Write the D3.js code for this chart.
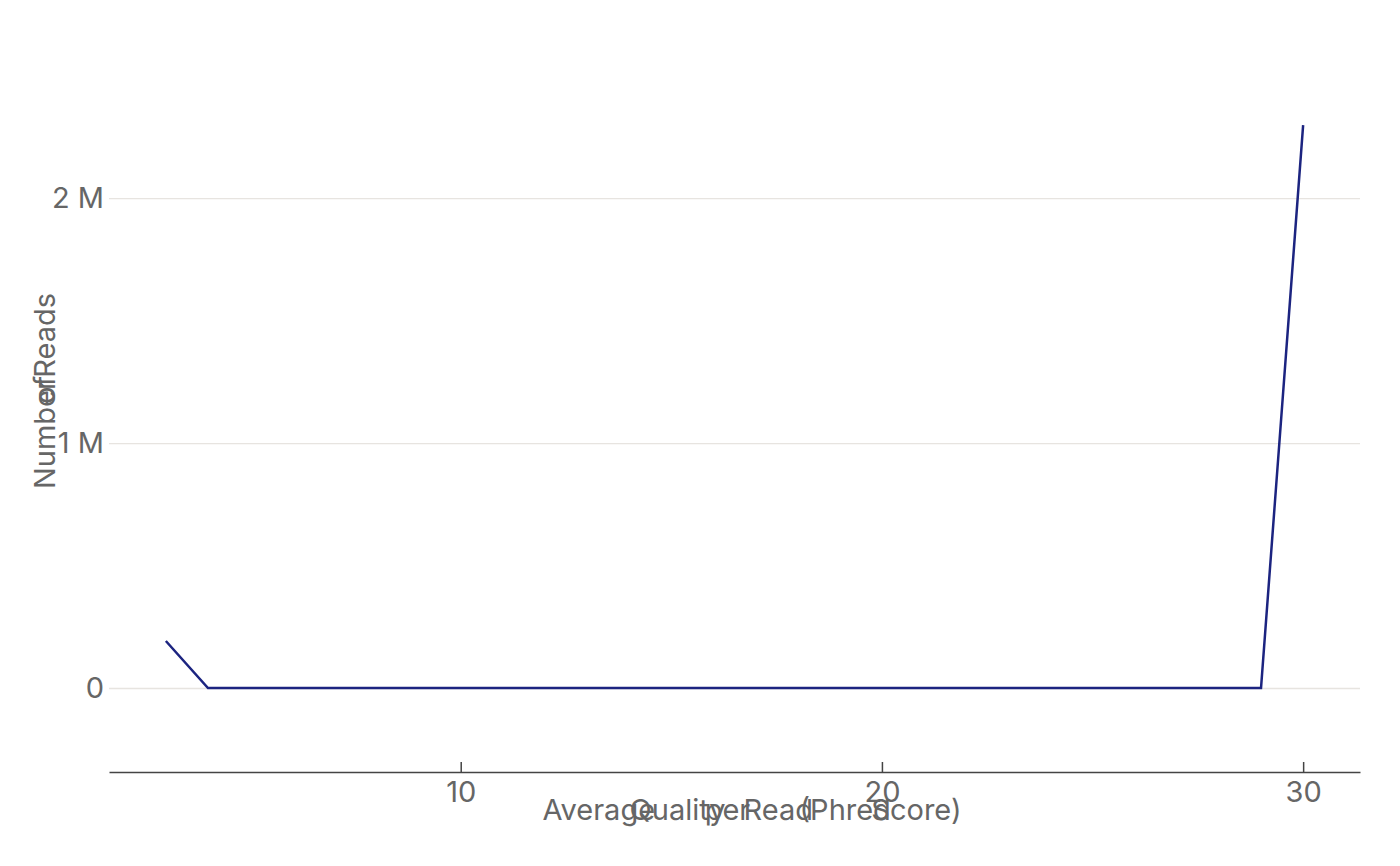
<!DOCTYPE html>
<html><head><meta charset="utf-8">
<script src="https://cdn.jsdelivr.net/npm/d3@7"></script>
<style>
html,body{margin:0;padding:0;background:#ffffff;}
svg text{font-family:Inter,"Noto Sans","DejaVu Sans",sans-serif;}
</style>
</head><body>
<svg id="chart" width="1400" height="866"></svg>
<script>
// ---- data ----
const qualityScores = [3,4,5,6,7,8,9,10,11,12,13,14,15,16,17,18,19,20,21,22,23,24,25,26,27,28,29,30];
const readCounts    = [192000,0,0,0,0,0,0,0,0,0,0,0,0,0,0,0,0,0,0,0,0,0,0,0,0,0,0,2298000];
const xTickValues = [10,20,30];
const yTickValues = [0,1000000,2000000];
const yTickLabels = ["0","1 M","2 M"];
const xTitleWords = ["Average","Quality","per","Read","(Phred","Score)"];
const yTitleWords = ["Number","of","Reads"];

// ---- layout ----
const svg = d3.select("#chart");
const plot = {left:109, right:1360, top:110, bottom:772};
const fontSize = 29;
const textColor = "#666666";

const x = d3.scaleLinear().domain([1.65,31.35]).range([plot.left, plot.right]);
const y = d3.scaleLinear().domain([-343000,2360000]).range([plot.bottom, plot.top]);

// gridlines + y labels
const yAxis = svg.append("g")
  .attr("transform",`translate(${plot.right},0)`)
  .call(d3.axisLeft(y).tickValues(yTickValues)
    .tickSize(plot.right-plot.left).tickPadding(5)
    .tickFormat((d,i)=>yTickLabels[i]));
yAxis.select(".domain").remove();
yAxis.selectAll(".tick line").attr("stroke","#e7e4e0").attr("stroke-width",1.3);
yAxis.selectAll(".tick text").attr("fill",textColor).attr("font-size",fontSize)
  .attr("font-family","Inter, sans-serif");

// x axis
const xAxis = svg.append("g")
  .attr("transform",`translate(0,${plot.bottom})`)
  .call(d3.axisBottom(x).tickValues(xTickValues)
    .tickSizeInner(-10).tickSizeOuter(0).tickPadding(9));
xAxis.select(".domain").attr("stroke","#444").attr("stroke-width",1.5);
xAxis.selectAll(".tick line").attr("stroke","#444").attr("stroke-width",1.5);
xAxis.selectAll(".tick text").attr("fill",textColor).attr("font-size",fontSize)
  .attr("font-family","Inter, sans-serif");

// line
const line = d3.line().x((d,i)=>x(qualityScores[i])).y(d=>y(d));
svg.append("path").datum(readCounts)
  .attr("d",line).attr("fill","none")
  .attr("stroke","#1c2480").attr("stroke-width",2.5)
  .attr("stroke-linejoin","miter");

// axis titles (words laid out with compressed advances, as in the reference)
function placeWords(g, words, ratio, gap){
  const t = g.selectAll("text").data(words).join("text")
    .attr("font-size",fontSize).attr("fill",textColor).text(d=>d);
  const widths = t.nodes().map(n=>n.getComputedTextLength());
  const pos = []; let cur = 0;
  widths.forEach(w=>{ pos.push(cur); cur += w*ratio + gap; });
  const extent = pos[pos.length-1] + widths[widths.length-1];
  t.attr("x",(d,i)=>pos[i]-extent/2).attr("y",0);
}
placeWords(svg.append("g").attr("transform","translate(752,820)"), xTitleWords, 0.72, 6);
placeWords(svg.append("g").attr("transform","translate(55,391) rotate(-90)"), yTitleWords, 0.72, 6);
</script>
</body></html>
